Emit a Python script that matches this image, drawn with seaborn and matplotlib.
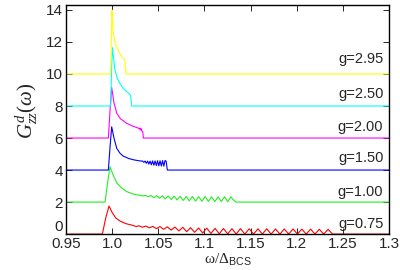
import matplotlib
matplotlib.use("Agg")
import matplotlib.pyplot as plt
import seaborn as sns
import pandas as pd

# curves (already shifted by their 2*n offset)
red_x = [0.95, 0.9894, 0.9930, 0.9966, 1.0000, 1.0040, 1.0090, 1.0150, 1.0220, 1.0260,
         1.0290, 1.0328, 1.0365, 1.0403, 1.0440, 1.0479, 1.0518, 1.0558, 1.0598, 1.0639,
         1.0680, 1.0723, 1.0765, 1.0808, 1.0850, 1.0894, 1.0937, 1.0981, 1.1025, 1.1070,
         1.1115, 1.1161, 1.1206, 1.1252, 1.1298, 1.1344, 1.1390, 1.1438, 1.1485, 1.1533,
         1.1580, 1.1628, 1.1675, 1.1723, 1.1770, 1.1818, 1.1865, 1.1913, 1.1960, 1.2008,
         1.2055, 1.2103, 1.2150, 1.2198, 1.2245, 1.2293, 1.2340, 1.2388, 1.30]
red_y = [0.0, 0.0, 1.0, 1.75, 1.35, 1.0, 0.8, 0.65, 0.55, 0.47,
         0.52, 0.43, 0.50, 0.39, 0.48, 0.34, 0.47, 0.30, 0.45, 0.25,
         0.44, 0.20, 0.42, 0.15, 0.40, 0.11, 0.38, 0.07, 0.37, 0.04,
         0.36, 0.02, 0.35, 0.01, 0.34, 0.0, 0.34, 0.0, 0.33, 0.0,
         0.33, 0.0, 0.33, 0.0, 0.32, 0.0, 0.32, 0.0, 0.32, 0.0,
         0.31, 0.0, 0.31, 0.0, 0.30, 0.0, 0.30, 0.0, 0.0]

green_x = [0.95, 0.9923, 0.9950, 0.9977, 1.0010, 1.0050, 1.0100, 1.0160, 1.0230, 1.0280,
           1.0303, 1.0332, 1.0362, 1.0392, 1.0422, 1.0452, 1.0483, 1.0514, 1.0545, 1.0576,
           1.0608, 1.0640, 1.0672, 1.0704, 1.0737, 1.0770, 1.0803, 1.0836, 1.0870, 1.0904,
           1.0938, 1.0973, 1.1008, 1.1043, 1.1078, 1.1113, 1.1148, 1.1183, 1.1218, 1.1253,
           1.1288, 1.1310, 1.1340, 1.30]
green_y = [2.0, 2.0, 3.2, 4.2, 3.7, 3.2, 2.9, 2.65, 2.5, 2.43,
           2.44, 2.38, 2.42, 2.33, 2.41, 2.28, 2.40, 2.24, 2.39, 2.20,
           2.38, 2.16, 2.37, 2.13, 2.36, 2.10, 2.35, 2.08, 2.35, 2.06,
           2.34, 2.05, 2.34, 2.04, 2.33, 2.03, 2.33, 2.03, 2.33, 2.02,
           2.33, 2.15, 2.0, 2.0]

blue_x = [0.95, 0.9959, 0.9978, 0.9995, 1.0020, 1.0050, 1.0085, 1.0120, 1.0180, 1.0240,
          1.0300, 1.0330, 1.0344, 1.0357, 1.0371, 1.0384, 1.0398, 1.0411, 1.0425, 1.0438,
          1.0452, 1.0465, 1.0479, 1.0492, 1.0506, 1.0519, 1.0533, 1.0546, 1.0560, 1.0573,
          1.0585, 1.0598, 1.30]
blue_y = [4.0, 4.0, 5.5, 6.7, 6.0, 5.35, 5.05, 4.87, 4.72, 4.63,
          4.57, 4.56, 4.48, 4.56, 4.42, 4.56, 4.37, 4.56, 4.33, 4.57,
          4.30, 4.57, 4.28, 4.58, 4.26, 4.58, 4.25, 4.59, 4.24, 4.60,
          4.55, 4.0, 4.0]

magenta_x = [0.95, 0.9959, 0.9978, 0.9995, 1.0020, 1.0050, 1.0090, 1.0158, 1.0220, 1.0280,
             1.0300, 1.0305, 1.0310, 1.0315, 1.0320, 1.0332, 1.0338, 1.30]
magenta_y = [6.0, 6.0, 7.8, 9.15, 8.2, 7.55, 7.2, 6.92, 6.75, 6.63,
             6.55, 6.62, 6.5, 6.58, 6.45, 6.4, 6.0, 6.0]

cyan_x = [0.95, 0.9984, 0.9995, 1.0003, 1.0015, 1.0030, 1.0055, 1.0085, 1.0120, 1.0158,
          1.0193, 1.0200, 1.0212, 1.30]
cyan_y = [8.0, 8.0, 10.5, 11.65, 11.0, 10.25, 9.75, 9.4, 9.1, 8.9,
          8.72, 8.65, 8.0, 8.0]

yellow_x = [0.95, 0.9984, 0.9993, 0.9998, 1.0006, 1.0013, 1.0030, 1.0050, 1.0075, 1.0103,
            1.0125, 1.0139, 1.0150, 1.30]
yellow_y = [10.0, 10.0, 12.5, 14.0, 13.2, 12.56, 12.0, 11.7, 11.35, 11.08,
            10.95, 10.87, 10.0, 10.0]

g_labels = ['g=0.75', 'g=1.00', 'g=1.50', 'g=2.00', 'g=2.50', 'g=2.95']
label_y = [0.66, 2.6, 4.78, 6.66, 8.75, 10.94]

xticks = [0.95, 1.0, 1.05, 1.1, 1.15, 1.2, 1.25, 1.3]
xtick_labels = ['0.95', '1.0', '1.05', '1.1', '1.15', '1.2', '1.25', '1.3']
yticks = [0, 2, 4, 6, 8, 10, 12, 14]

curves = [(red_x, red_y, '#ff0000'), (green_x, green_y, '#22ee22'),
          (blue_x, blue_y, '#0000ff'), (magenta_x, magenta_y, '#ff00ff'),
          (cyan_x, cyan_y, '#00ffff'), (yellow_x, yellow_y, '#ffff00')]

sns.set_style("ticks")
plt.rcParams['font.family'] = ['Liberation Sans', 'DejaVu Sans']
plt.rcParams['mathtext.fontset'] = 'custom'
plt.rcParams['mathtext.rm'] = 'Liberation Serif'
plt.rcParams['mathtext.it'] = 'Liberation Serif:italic'
plt.rcParams['mathtext.sf'] = 'Liberation Sans'

fig = plt.figure(figsize=(4, 2.7), dpi=100)
ax = fig.add_axes([0.165, 0.133, 0.8075, 0.848])

for xs, ys, col in curves:
    df = pd.DataFrame({'w': xs, 'G': ys})
    sns.lineplot(data=df, x='w', y='G', color=col, lw=0.8, sort=False,
                 estimator=None, ax=ax)

for lab, yy in zip(g_labels, label_y):
    ax.text(1.2938, yy, lab, ha='right', va='center', fontsize=10.5)

ax.set_xlim(0.95, 1.3)
ax.set_ylim(0, 14.3)
ax.set_xticks(xticks)
ax.set_xticklabels(xtick_labels)
ax.set_yticks(yticks)
ax.tick_params(direction='in', top=True, right=True, length=4, width=0.7,
               labelsize=11, pad=2)
ax.get_yticklabels()[0].set_verticalalignment('bottom')
for s in ax.spines.values():
    s.set_linewidth(1.0)
    s.set_color('black')

ax.set_xlabel(r'$\mathrm{\omega/\Delta}_{\mathsf{BCS}}$', fontsize=11, labelpad=1)
ax.set_ylabel(r'$G^{d}_{zz}(\omega)$', fontsize=15)
ax.yaxis.set_label_coords(-0.08, 0.54)

fig.savefig('out.png', dpi=100)
